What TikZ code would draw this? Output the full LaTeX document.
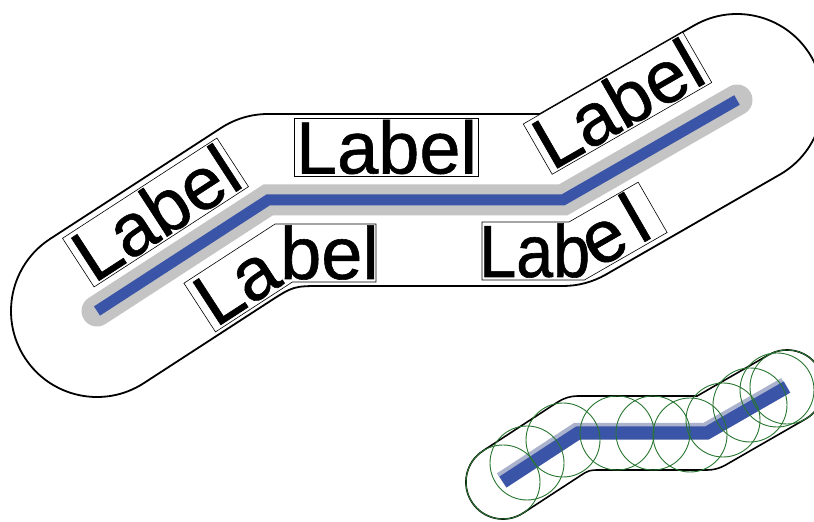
\documentclass[tikz,border=0pt]{standalone}
\usepackage{fontspec}
\setmainfont{Liberation Sans}
\newfontfamily\tagfont{Liberation Sans}[RawFeature={embolden=0.8}]
\usetikzlibrary{calc}

\definecolor{routeBlue}{RGB}{58,84,168}
\definecolor{haloGray}{RGB}{196,196,196}
\definecolor{haloSoft}{RGB}{170,178,205}
\definecolor{ringGreen}{RGB}{40,118,48}

\tikzset{
  buffer/.style={draw=black, line width=1.8pt, fill=white, line join=round},
  halo/.style={draw=haloGray, line width=31pt, line cap=round, line join=miter},
  route/.style={draw=routeBlue, line width=11pt, line cap=butt, line join=miter},
  tag/.style={draw=black, line width=0.6pt, fill=white,
    font=\tagfont\fontsize{74}{74}\selectfont, inner xsep=1.5pt, inner ysep=2.5pt,
    text height=53pt, text depth=0pt},
  tagbox/.style={draw=black, line width=0.6pt, fill=white, line join=miter},
  glyph/.style={font=\tagfont\fontsize{74}{74}\selectfont, inner sep=0pt, anchor=base west},
  smallbuffer/.style={draw=black, line width=1.6pt, line join=round},
  smallhalo/.style={draw=haloSoft, line width=17pt, line cap=butt, line join=miter},
  smallroute/.style={draw=routeBlue, line width=13pt, line cap=butt, line join=miter},
  ring/.style={draw=ringGreen, line width=0.9pt},
}

\begin{document}
\begin{tikzpicture}[x=1pt,y=1pt]
\useasboundingbox (0,0) rectangle (814,522);
\clip (0,0) rectangle (814,522);
\fill[white] (0,0) rectangle (814,522);

% ---------- large route ----------
\coordinate (P0) at (97,211);
\coordinate (P1) at (268,322);
\coordinate (P2) at (563,322);
\coordinate (P3) at (737,422);

% buffer zone around the route (radius 86)
\path[buffer] (50.16,283.13) -- (221.16,394.12)
  arc[start angle=123, end angle=90, radius=86]
  -- (540.05,408) -- (694.13,496.55)
  arc[start angle=119.9, end angle=-60.1, radius=86]
  -- (605.87,247.45)
  arc[start angle=-60.1, end angle=-90, radius=86]
  -- (323,236) .. controls (293.45,236) .. (268.29,219.67)
  -- (143.84,138.87)
  arc[start angle=-57, end angle=-237, radius=86] -- cycle;

\draw[halo] (P0) -- (P1) -- (P2) -- (P3);
\draw[route] (P0) -- (P1) -- (P2) -- (P3);

% straight labels
\node[tag, rotate=33]   (tl) at (155.5,309.5) {Label};
\node[tag]              (tc) at (386.5,375)   {Label};
\node[tag, rotate=29.9] (tr) at (617.5,418.75) {Label};

% label bent round the first corner
\path[tagbox] (215.5,190.1) -- (183.9,238.8) -- (275.1,298) -- (376,298)
  -- (376,240) -- (292.4,240) -- cycle;
\node[glyph, rotate=33] (blL) at (215.5,193.7) {L};
\node[glyph, rotate=33] (bla) at (250.0,216.1) {a};
\node[glyph] (blb) at (280,243) {b};
\node[glyph] (ble) at (321.1,243) {e};
\node[glyph] (bll) at (362.2,243) {l};

% label bent round the second corner
\path[tagbox] (482,300) -- (569,300) -- (638.2,339.8) -- (667.1,289.5)
  -- (584.4,242) -- (482,242) -- cycle;
\node[glyph, xscale=0.9] (brL) at (479,245) {L};
\node[glyph, xscale=0.9] (bra) at (516,245) {a};
\node[glyph, xscale=0.9] (brb) at (553,245) {b};
\node[glyph, rotate=29.9] (bre) at (597,252.7) {e};
\node[glyph, rotate=29.9] (brl) at (640.4,277.6) {l};

% ---------- small route with its covering circles ----------
\coordinate (Q0) at (503,40);
\coordinate (Q1) at (578,89);
\coordinate (Q2) at (707,89);
\coordinate (Q3) at (787,135);

\path[fill=white] (482.7,71.0) -- (557.8,120.0)
  arc[start angle=123.2, end angle=90, radius=37]
  -- (697.1,126) -- (768.6,167.1)
  arc[start angle=119.9, end angle=-60.1, radius=37]
  -- (725.4,56.9)
  arc[start angle=-60.1, end angle=-90, radius=37]
  -- (601,52) .. controls (589,52) .. (579.0,45.4)
  -- (523.2,9.0)
  arc[start angle=-56.8, end angle=-236.8, radius=37] -- cycle;

\draw[smallhalo] ([shift={(-1.5,1.5)}]Q0) -- ([shift={(-1.5,1.5)}]Q1)
  -- ([shift={(-1.5,1.5)}]Q2) -- ([shift={(-1.5,1.5)}]Q3);
\draw[smallroute] (Q0) -- (Q1) -- (Q2) -- (Q3);

\draw[smallbuffer] (482.7,71.0) -- (557.8,120.0)
  arc[start angle=123.2, end angle=90, radius=37]
  -- (697.1,126) -- (768.6,167.1)
  arc[start angle=119.9, end angle=-60.1, radius=37]
  -- (725.4,56.9)
  arc[start angle=-60.1, end angle=-90, radius=37]
  -- (601,52) .. controls (589,52) .. (579.0,45.4)
  -- (523.2,9.0)
  arc[start angle=-56.8, end angle=-236.8, radius=37] -- cycle;

\foreach \cx/\cy in {503/40, 527/59, 563/82, 617/89, 653/89, 690/87,
                     723/102, 750/117, 777/132, 787/135}
  \draw[ring] (\cx,\cy) circle[radius=37];
\end{tikzpicture}
\end{document}
